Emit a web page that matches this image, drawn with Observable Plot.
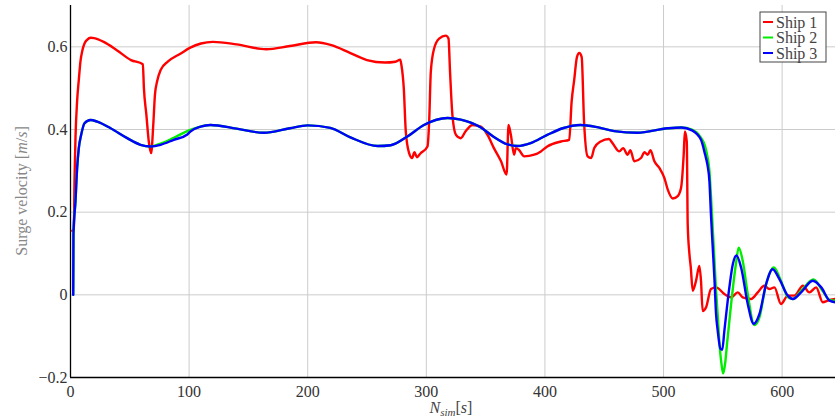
<!DOCTYPE html>
<html>
<head>
<meta charset="utf-8">
<script src="https://cdn.jsdelivr.net/npm/d3@7"></script>
<script src="https://cdn.jsdelivr.net/npm/@observablehq/plot@0.6"></script>
<style>
  html, body { margin: 0; padding: 0; background: #fff; }
  #chart { width: 835px; height: 420px; }
  #chart svg text { font-family: 'Liberation Serif', 'DejaVu Serif', serif !important; }
</style>
</head>
<body>
<div id="chart"></div>
<script>
// ---- Data ----
const xTicks = [0, 100, 200, 300, 400, 500, 600];
const yTicks = [-0.2, 0, 0.2, 0.4, 0.6];
const seriesNames = ["Ship 1", "Ship 2", "Ship 3"];
const seriesColors = ["#ff0000", "#00ee00", "#0000ff"];

const ship1T = [1.5, 2.8, 3.4, 4.2, 5.6, 7, 8.4, 9.9, 11.8, 14, 17, 20, 28, 39, 51, 61, 61.9, 64, 66, 68, 69.8, 71.2, 73, 76, 82, 93, 101, 110, 120, 140, 165, 185, 207, 220, 236, 250, 265, 274, 278, 279, 281, 282.7, 285.5, 288, 290, 292, 295, 301, 302.4, 303.8, 306.6, 310.8, 316.5, 318.7, 320, 322, 325, 329, 333, 339, 346, 351.6, 357, 363, 367.7, 369.3, 371.3, 374, 375.5, 378, 382.5, 391, 396.6, 402, 413.5, 420.5, 422.5, 424.7, 427, 429, 431, 433, 436, 439, 441.6, 447, 454, 457, 462.7, 466, 469.7, 472, 475.4, 481, 484, 486.6, 489, 492.3, 496.5, 500.7, 503.5, 507.8, 512, 514.8, 517, 518, 519.6, 520.4, 521.8, 523, 524.6, 527.4, 530.2, 531.6, 533, 535.9, 540, 544.3, 551.3, 557, 562.6, 566.8, 573.8, 579.5, 585, 589.2, 593.5, 599, 604.8, 610.4, 617.5, 623, 628.7, 634.3, 638.5, 645];
const ship1V = [0.155, 0.16, 0.28, 0.38, 0.47, 0.52, 0.565, 0.59, 0.608, 0.617, 0.622, 0.621, 0.612, 0.592, 0.568, 0.558, 0.50, 0.435, 0.371, 0.343, 0.412, 0.484, 0.516, 0.544, 0.564, 0.584, 0.598, 0.608, 0.612, 0.606, 0.594, 0.602, 0.611, 0.604, 0.585, 0.568, 0.562, 0.564, 0.569, 0.556, 0.50, 0.395, 0.343, 0.331, 0.345, 0.333, 0.342, 0.359, 0.419, 0.54, 0.596, 0.62, 0.627, 0.62, 0.54, 0.435, 0.387, 0.379, 0.395, 0.411, 0.407, 0.387, 0.355, 0.323, 0.291, 0.411, 0.387, 0.339, 0.355, 0.351, 0.335, 0.339, 0.347, 0.359, 0.371, 0.375, 0.467, 0.52, 0.575, 0.585, 0.575, 0.419, 0.335, 0.331, 0.355, 0.371, 0.377, 0.367, 0.347, 0.355, 0.339, 0.35, 0.323, 0.331, 0.345, 0.339, 0.35, 0.323, 0.307, 0.283, 0.255, 0.233, 0.239, 0.259, 0.339, 0.395, 0.371, 0.17, 0.10, 0.066, 0.01, 0.034, 0.07, 0.034, -0.039, -0.03, 0.014, 0.018, 0.002, -0.006, 0.006, -0.006, -0.01, 0.006, 0.022, 0.014, 0.018, -0.022, -0.002, -0.002, 0.022, 0.006, 0.018, -0.018, -0.014, -0.01];

const ship2T = [2.3, 2.5, 4.2, 5.6, 7, 9, 11.8, 16.9, 22.5, 33.8, 47.8, 59, 67.5, 76, 87, 98.5, 101, 109.7, 118, 140, 163, 185, 200, 219, 236, 259, 270, 284, 298, 318, 329, 346, 357, 368.5, 377, 388, 402, 415, 430, 445, 458.5, 478, 503.5, 515, 524, 531.6, 535, 537, 538.7, 540, 541.5, 543, 544.3, 545.7, 547, 549, 550.3, 552, 553.5, 557, 561, 563.4, 566.8, 571, 576.6, 580.8, 586.5, 593, 599, 605, 609, 616, 626.5, 634, 640, 645];
const ship2V = [0, 0.147, 0.227, 0.307, 0.355, 0.387, 0.415, 0.423, 0.419, 0.403, 0.379, 0.363, 0.359, 0.366, 0.38, 0.396, 0.399, 0.407, 0.411, 0.402, 0.392, 0.403, 0.41, 0.404, 0.381, 0.36, 0.362, 0.383, 0.411, 0.428, 0.424, 0.405, 0.382, 0.364, 0.36, 0.367, 0.387, 0.403, 0.411, 0.405, 0.396, 0.392, 0.403, 0.405, 0.4, 0.38, 0.36, 0.335, 0.30, 0.24, 0.16, 0.08, 0.01, -0.05, -0.111, -0.17, -0.19, -0.165, -0.12, -0.022, 0.074, 0.114, 0.082, 0.002, -0.073, -0.055, 0.026, 0.066, 0.034, -0.006, -0.01, 0.01, 0.037, 0.01, -0.012, -0.014];

const ship3T = [2.3, 2.5, 4.2, 5.6, 7, 9, 11.8, 16.9, 22.5, 33.8, 47.8, 59, 67.5, 76, 87, 98.5, 101, 109.7, 118, 140, 163, 185, 200, 219, 236, 259, 270, 284, 298, 318, 329, 346, 357, 368.5, 377, 388, 402, 415, 430, 445, 458.5, 478, 503.5, 515, 524, 531.6, 535, 537, 538.7, 540, 541.5, 543, 544.3, 545.7, 548, 549.5, 551.3, 555.5, 558.5, 561.5, 565.4, 571, 576, 580.8, 586.5, 592, 597.7, 604.8, 609, 616, 625.8, 633, 640, 645];
const ship3V = [0, 0.147, 0.227, 0.307, 0.355, 0.387, 0.415, 0.423, 0.419, 0.403, 0.379, 0.363, 0.359, 0.363, 0.375, 0.388, 0.395, 0.407, 0.411, 0.402, 0.392, 0.403, 0.41, 0.404, 0.381, 0.36, 0.362, 0.383, 0.411, 0.428, 0.424, 0.405, 0.382, 0.364, 0.36, 0.367, 0.387, 0.403, 0.411, 0.405, 0.396, 0.392, 0.403, 0.405, 0.398, 0.375, 0.34, 0.315, 0.275, 0.194, 0.114, 0.034, -0.047, -0.087, -0.131, -0.133, -0.087, 0.018, 0.075, 0.095, 0.066, -0.022, -0.07, -0.047, 0.026, 0.062, 0.038, -0.002, -0.01, 0.006, 0.034, 0.018, -0.014, -0.018];

// ---- Build tables ----
const toRows = (T, V) => T.map((t, i) => ({t, v: V[i]}));
const ship1 = toRows(ship1T, ship1V);
const ship2 = toRows(ship2T, ship2V);
const ship3 = toRows(ship3T, ship3V);

const font = "'Liberation Serif', 'DejaVu Serif', serif";
const fmtY = d => d === 0 ? "0" : d3.format(".1f")(d).replace("-", "\u2212");

const chart = Plot.plot({
  width: 835,
  height: 420,
  marginLeft: 70,
  marginRight: 0,
  marginTop: 5,
  marginBottom: 43,
  style: {fontFamily: font, fontSize: "16px", color: "#333", background: "#fff", overflow: "visible"},
  x: {domain: [0, 645]},
  y: {domain: [-0.2, 0.7]},
  marks: [
    Plot.gridX(xTicks.filter(d => d > 0), {stroke: "#cccccc", strokeOpacity: 1, strokeWidth: 1}),
    Plot.gridY(yTicks.filter(d => d > -0.2), {stroke: "#cccccc", strokeOpacity: 1, strokeWidth: 1}),
    Plot.axisX(xTicks, {tickSize: 0, tickPadding: 8, label: null, tickFormat: d => String(d), fontFamily: font, fontSize: 16}),
    Plot.axisY(yTicks, {tickSize: 0, tickPadding: 3, label: null, tickFormat: fmtY, fontFamily: font, fontSize: 16}),
    Plot.ruleX([0], {stroke: "#000", strokeWidth: 1.3}),
    Plot.ruleY([-0.2], {stroke: "#000", strokeWidth: 1.3}),
    Plot.line(ship1, {x: "t", y: "v", stroke: seriesColors[0], strokeWidth: 2.4, curve: "monotone-x"}),
    Plot.line(ship2, {x: "t", y: "v", stroke: seriesColors[1], strokeWidth: 2.4, curve: "monotone-x"}),
    Plot.line(ship3, {x: "t", y: "v", stroke: seriesColors[2], strokeWidth: 2.4, curve: "monotone-x"})
  ]
});

document.getElementById("chart").appendChild(chart);

// ---- Axis titles and legend ----
const svg = d3.select(chart);
svg.selectAll("text").style("font-family", font);

const yl = svg.append("text")
  .attr("transform", "translate(21,191) rotate(-90)")
  .attr("text-anchor", "middle")
  .attr("dy", "0.35em")
  .attr("fill", "#888")
  .style("font-family", font)
  .attr("font-size", 16);
yl.append("tspan").text("Surge velocity [");
yl.append("tspan").attr("font-style", "italic").text("m");
yl.append("tspan").text("/");
yl.append("tspan").attr("font-style", "italic").text("s");
yl.append("tspan").text("]");

const xl = svg.append("text")
  .attr("x", 451)
  .attr("y", 413)
  .attr("text-anchor", "middle")
  .attr("fill", "#444")
  .style("font-family", font)
  .attr("font-size", 16);
xl.append("tspan").attr("font-style", "italic").text("N");
xl.append("tspan").attr("font-style", "italic").attr("font-size", 11).attr("dy", 3).text("sim");
xl.append("tspan").attr("dy", -3).text("[");
xl.append("tspan").attr("font-style", "italic").text("s");
xl.append("tspan").text("]");

const lg = svg.append("g").attr("transform", "translate(760,12)");
lg.append("rect").attr("width", 66).attr("height", 50)
  .attr("fill", "#fff").attr("stroke", "#444").attr("stroke-width", 1);
seriesNames.forEach((name, i) => {
  const cy = 10 + i * 15.5;
  lg.append("line").attr("x1", 3).attr("x2", 13).attr("y1", cy).attr("y2", cy)
    .attr("stroke", seriesColors[i]).attr("stroke-width", 2);
  lg.append("text").attr("x", 16).attr("y", cy).attr("dy", "0.35em")
    .attr("text-anchor", "start")
    .attr("fill", "#444").style("font-family", font).attr("font-size", 16)
    .text(name);
});
</script>
</body>
</html>
